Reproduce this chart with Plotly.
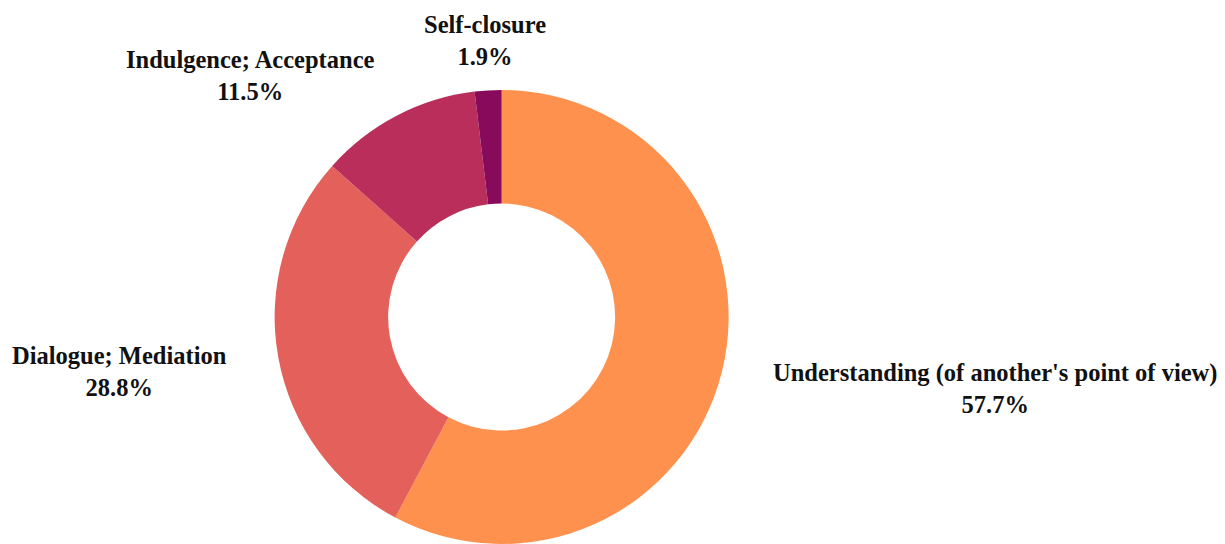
import plotly.graph_objects as go

# Share of responses per category (percent)
categories = [
    "Understanding (of another's point of view)",
    "Dialogue; Mediation",
    "Indulgence; Acceptance",
    "Self-closure",
]
shares = [57.7, 28.8, 11.5, 1.9]
colors = ["#FE914D", "#E4605A", "#B92E5A", "#870B5A"]

W, H = 1225, 544

fig = go.Figure(
    go.Pie(
        labels=categories,
        values=shares,
        hole=0.5,
        sort=False,
        direction="clockwise",
        rotation=0,
        marker=dict(colors=colors, line=dict(width=0)),
        textinfo="none",
        hoverinfo="label+percent",
        domain=dict(x=[0.224, 0.595], y=[0, (H - 90) / H]),
        showlegend=False,
    )
)

# Outside category labels, placed around the ring (pixel centres)
label_pos = [(995, 388), (119, 371), (250, 76), (485, 41)]
for name, share, (px, py) in zip(categories, shares, label_pos):
    fig.add_annotation(
        text=f"<b>{name}</b><br><b>{share:.1f}%</b>",
        x=px / W,
        y=1 - py / H,
        xref="paper",
        yref="paper",
        xanchor="center",
        yanchor="middle",
        showarrow=False,
        align="center",
        font=dict(family="Liberation Serif", size=24.5, color="#111111"),
    )

fig.update_layout(
    width=W,
    height=H,
    margin=dict(l=0, r=0, t=0, b=0),
    paper_bgcolor="white",
    plot_bgcolor="white",
)

fig.write_html("out.html")
